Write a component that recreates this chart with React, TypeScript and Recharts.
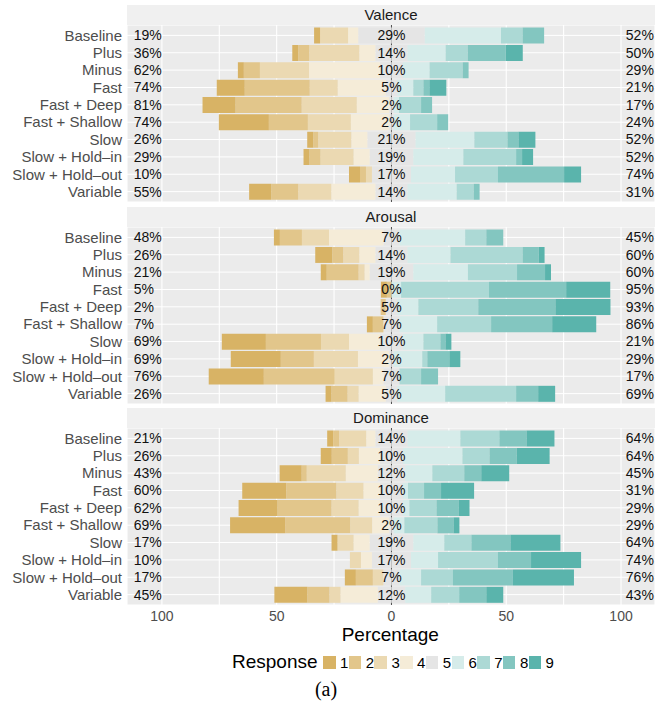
import React from "react";
import { BarChart, Bar, XAxis, YAxis, CartesianGrid } from "recharts";

const ROWS = [
  "Baseline",
  "Plus",
  "Minus",
  "Fast",
  "Fast + Deep",
  "Fast + Shallow",
  "Slow",
  "Slow + Hold–in",
  "Slow + Hold–out",
  "Variable",
];
const LEVELS = ["1", "2", "3", "4", "5", "6", "7", "8", "9"];
const COLORS = ["#D8B365", "#E2C68B", "#EBD9B2", "#F5ECD8", "#E5E5E5", "#D6ECEA", "#ACD9D5", "#83C6C0", "#5AB4AC"];

// % of responses at levels 1..9, one row per condition (same order as ROWS)
const VALENCE = [
  [2.6, 0, 12.2, 4.4, 29, 33.2, 9.4, 9.4, 0],
  [2.6, 4.8, 21.8, 7.0, 14, 16.6, 9.6, 16.6, 7.4],
  [2.6, 7.0, 21.4, 30.9, 10, 11.6, 14.4, 2.6, 0],
  [12.2, 28.3, 12.2, 20.9, 5, 7.0, 4.4, 2.6, 7.4],
  [14.4, 28.8, 24.0, 14.1, 2, 2.3, 9.6, 4.8, 0],
  [21.8, 17.0, 18.7, 16.7, 2, 7.1, 11.8, 4.8, 0],
  [2.6, 2.2, 14.4, 7.0, 21, 25.6, 14.4, 4.8, 7.4],
  [2.6, 4.8, 14.4, 7.0, 19, 21.8, 23.0, 2.6, 4.8],
  [4.8, 2.6, 2.6, 0, 17, 19.2, 18.7, 28.8, 7.4],
  [9.6, 11.8, 14.4, 19.2, 14, 21.4, 7.4, 2.6, 0],
];
const AROUSAL = [
  [2.6, 9.6, 11.8, 23.7, 7, 28.6, 9.2, 7.4, 0],
  [7.4, 4.8, 7.0, 7.0, 14, 18.7, 31.4, 7.0, 2.6],
  [2.6, 13.9, 2.6, 2.2, 19, 23.8, 21.4, 12.2, 2.6],
  [2.6, 2.0, 0, 0, 0, 4.2, 38.3, 33.6, 19.2],
  [0, 2.2, 0, 0, 5, 9.2, 26.1, 33.6, 24.0],
  [2.6, 4.6, 0, 0, 7, 16.4, 23.5, 26.6, 19.2],
  [19.2, 24.0, 12.2, 13.5, 10, 8.9, 7.4, 2.2, 2.6],
  [21.8, 14.4, 19.2, 13.6, 2, 12.4, 2.2, 9.6, 4.8],
  [24.0, 30.9, 16.6, 4.6, 7, 0, 9.4, 7.4, 0],
  [2.6, 7.0, 4.8, 11.8, 5, 20.9, 30.9, 9.6, 7.4],
];
const DOMINANCE = [
  [2.6, 2.6, 11.8, 4.0, 14, 23.0, 17.0, 11.8, 12.2],
  [4.8, 7.0, 4.8, 9.2, 10, 25.9, 11.8, 11.8, 14.4],
  [9.6, 2.2, 17.0, 13.9, 12, 11.8, 13.9, 7.4, 12.2],
  [19.2, 21.8, 11.8, 7.2, 10, 2.2, 7.0, 7.4, 14.4],
  [17.0, 23.5, 11.8, 9.3, 10, 2.8, 11.8, 9.6, 4.8],
  [24.0, 28.3, 9.6, 7.4, 2, 4.6, 14.4, 7.0, 2.6],
  [2.6, 0, 7.0, 7.0, 19, 13.5, 11.8, 17.0, 21.8],
  [0, 0, 4.8, 4.8, 17, 11.8, 26.1, 14.4, 21.8],
  [4.8, 7.4, 4.6, 0, 7, 9.4, 13.9, 26.1, 26.6],
  [14.4, 9.6, 4.8, 16.2, 12, 11.3, 12.2, 11.8, 7.4],
];

const X_TICKS = [-100, -75, -50, -25, 0, 25, 50, 75, 100];
const X_LABELED = [-100, -50, 0, 50, 100];
const X_DOMAIN: [number, number] = [-115.2, 114.8];
const LEFT_LABEL_AT = -112.3;
const RIGHT_LABEL_AT = 114.3;

const W = 655;
const AXIS_W = 127;
const PLOT_W = W - AXIS_W;
const STRIP_H = 20;
const PLOT_H = 177;
const AXIS_H = 22;

const xPx = (u: number) => AXIS_W + ((u - X_DOMAIN[0]) / (X_DOMAIN[1] - X_DOMAIN[0])) * PLOT_W;

// stacking order away from zero, negatives on the left
const STACK = [
  { key: "n_lo", color: COLORS[4] },
  { key: "l4", color: COLORS[3] },
  { key: "l3", color: COLORS[2] },
  { key: "l2", color: COLORS[1] },
  { key: "l1", color: COLORS[0] },
  { key: "n_hi", color: COLORS[4] },
  { key: "h6", color: COLORS[5] },
  { key: "h7", color: COLORS[6] },
  { key: "h8", color: COLORS[7] },
  { key: "h9", color: COLORS[8] },
];

function toTable(facet: number[][]) {
  return ROWS.map((name, i) => {
    const v = facet[i];
    const low = v[0] + v[1] + v[2] + v[3];
    const high = v[5] + v[6] + v[7] + v[8];
    return {
      name,
      l1: -v[0],
      l2: -v[1],
      l3: -v[2],
      l4: -v[3],
      n_lo: -v[4] / 2,
      n_hi: v[4] / 2,
      h6: v[5],
      h7: v[6],
      h8: v[7],
      h9: v[8],
      low: Math.round(low),
      mid: Math.round(v[4]),
      high: Math.round(high),
    };
  });
}

const RowTick = ({ y, payload, table }: any) => {
  const row = table.find((r: any) => r.name === payload.value);
  if (!row) return null;
  return (
    <g>
      <text x={AXIS_W - 5} y={y} dy="0.35em" textAnchor="end" fontSize={15} fill="#4D4D4D">
        {payload.value}
      </text>
      <text x={xPx(LEFT_LABEL_AT)} y={y} dy="0.35em" textAnchor="start" fontSize={14} fill="#111">
        {row.low}%
      </text>
      <text x={xPx(0)} y={y} dy="0.35em" textAnchor="middle" fontSize={14} fill="#111">
        {row.mid}%
      </text>
      <text x={xPx(RIGHT_LABEL_AT)} y={y} dy="0.35em" textAnchor="end" fontSize={14} fill="#111">
        {row.high}%
      </text>
    </g>
  );
};

const GridLine = (p: any) => {
  const zero = Math.abs(p.x1 - xPx(0)) < 1;
  return (
    <line
      key={p.key}
      x1={p.x1}
      x2={p.x2}
      y1={p.y1}
      y2={p.y2}
      stroke={zero ? "#4D4D4D" : "#FFFFFF"}
      strokeWidth={zero ? 1 : 1.1}
    />
  );
};

function Panel({ title, facet, top, showAxis }: { title: string; facet: number[][]; top: number; showAxis?: boolean }) {
  const table = toTable(facet);
  return (
    <div style={{ position: "absolute", left: 0, top, width: W }}>
      <div
        style={{
          position: "absolute",
          left: AXIS_W,
          top: 0,
          width: PLOT_W,
          height: STRIP_H,
          background: "#F0F0F0",
          color: "#1A1A1A",
          fontSize: 15,
          lineHeight: `${STRIP_H}px`,
          textAlign: "center",
        }}
      >
        {title}
      </div>
      <div style={{ position: "absolute", left: 0, top: STRIP_H }}>
        <BarChart
          width={W}
          height={PLOT_H + (showAxis ? AXIS_H : 0)}
          data={table}
          layout="vertical"
          stackOffset="sign"
          barCategoryGap="5%"
          margin={{ top: 0, right: 0, bottom: 0, left: 0 }}
        >
          <CartesianGrid fill="#EBEBEB" stroke="#FFFFFF" vertical={GridLine} />
          <XAxis
            type="number"
            domain={X_DOMAIN}
            allowDataOverflow
            ticks={X_TICKS}
            interval={0}
            hide={!showAxis}
            height={AXIS_H}
            axisLine={false}
            tickLine={false}
            tickSize={4}
            tickMargin={2}
            tick={{ fontSize: 14, fill: "#4D4D4D" }}
            tickFormatter={(v: number) => (X_LABELED.includes(v) ? `${Math.abs(v)}` : "")}
          />
          {STACK.map((s) => (
            <Bar key={s.key} dataKey={s.key} stackId="likert" fill={s.color} isAnimationActive={false} />
          ))}
          <YAxis
            type="category"
            dataKey="name"
            width={AXIS_W}
            interval={0}
            axisLine={false}
            tickLine={false}
            padding={{ top: 1.7, bottom: 1.7 }}
            tick={(p: any) => <RowTick {...p} table={table} />}
          />
        </BarChart>
      </div>
    </div>
  );
}

export default function App() {
  return (
    <div
      style={{
        position: "absolute",
        left: 0,
        top: 0,
        width: W,
        height: 707,
        background: "#FFFFFF",
        fontFamily: "'Liberation Sans', Arial, sans-serif",
      }}
    >
      <Panel title="Valence" facet={VALENCE} top={5} />
      <Panel title="Arousal" facet={AROUSAL} top={207} />
      <Panel title="Dominance" facet={DOMINANCE} top={408} showAxis />
      <div
        style={{
          position: "absolute",
          left: AXIS_W,
          width: PLOT_W - 1.5,
          top: 625,
          fontSize: 19,
          lineHeight: "19px",
          textAlign: "center",
          color: "#000",
        }}
      >
        Percentage
      </div>
      <div style={{ position: "absolute", left: 232, top: 652, fontSize: 19, lineHeight: "19px", color: "#000" }}>
        Response
      </div>
      {LEVELS.map((lv, i) => (
        <div key={lv} style={{ position: "absolute", left: 323 + i * 25.7, top: 656, display: "flex", alignItems: "center" }}>
          <div style={{ width: 12.5, height: 12.5, background: COLORS[i] }} />
          <span style={{ marginLeft: 4.5, fontSize: 15, lineHeight: "13px", color: "#000" }}>{lv}</span>
        </div>
      ))}
      <div
        style={{
          position: "absolute",
          left: 300,
          width: 52,
          top: 679,
          lineHeight: "20px",
          textAlign: "center",
          fontSize: 20,
          fontFamily: "'Liberation Serif', 'Times New Roman', serif",
        }}
      >
        (a)
      </div>
    </div>
  );
}
